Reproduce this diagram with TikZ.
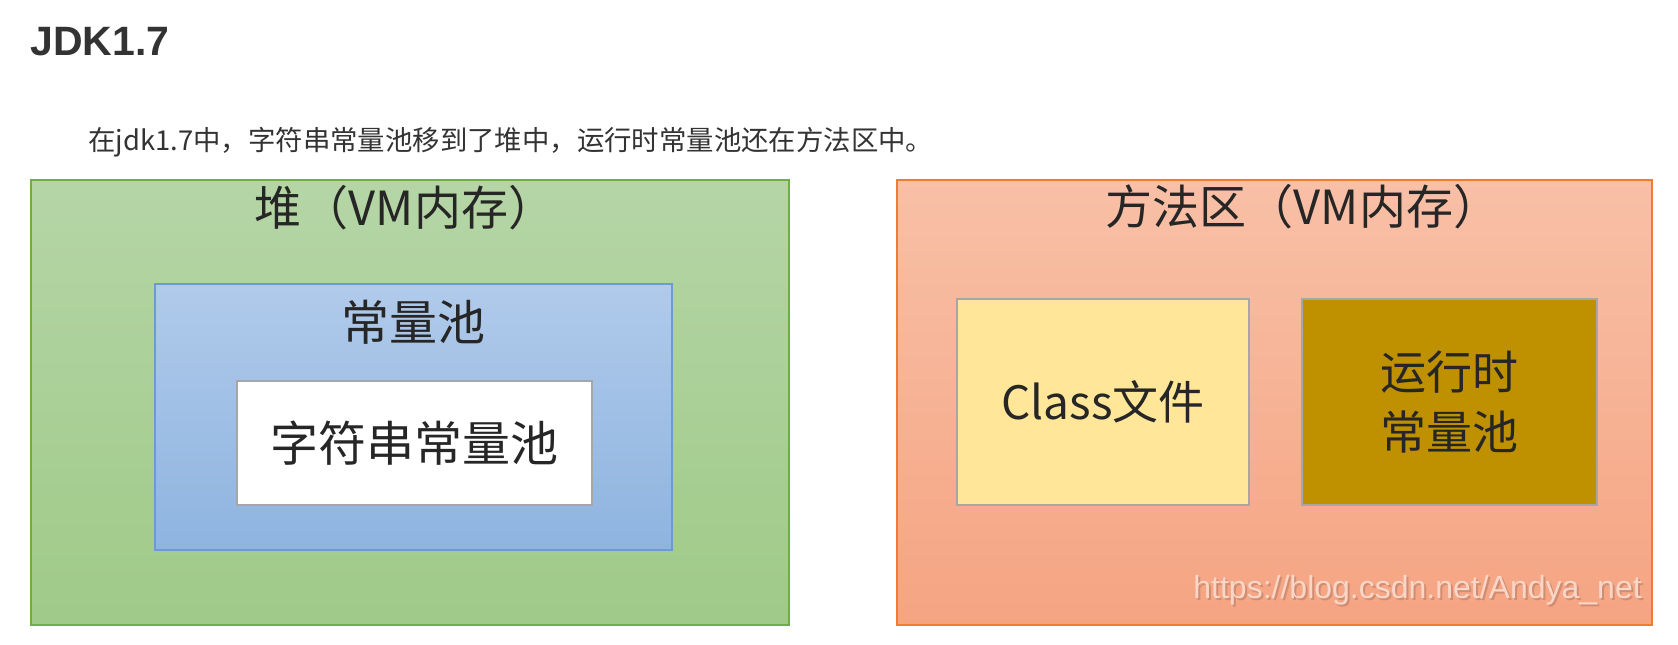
\documentclass[tikz,border=0pt]{standalone}
\usepackage{fontspec}
\setmainfont{Noto Sans CJK SC}
\newfontfamily\latinfont{Liberation Sans}
\definecolor{textgray}{HTML}{333333}
\definecolor{boxtext}{HTML}{262626}
\definecolor{heaptop}{HTML}{B5D5A6}
\definecolor{heapbot}{HTML}{9FCA88}
\definecolor{heapline}{HTML}{70AD47}
\definecolor{pooltop}{HTML}{B0CAEA}
\definecolor{poolbot}{HTML}{8EB4E0}
\definecolor{poolline}{HTML}{6A9BD3}
\definecolor{methtop}{HTML}{F8C0A7}
\definecolor{methbot}{HTML}{F5A482}
\definecolor{methline}{HTML}{ED7D31}
\definecolor{classfill}{HTML}{FFE699}
\definecolor{rtfill}{HTML}{BF9000}
\definecolor{innerline}{HTML}{A6A6A6}
\definecolor{markfill}{HTML}{FAD6C8}
\tikzset{
  areabox/.style={line width=1pt, inner sep=0pt},
  innerbox/.style={draw=innerline, line width=1pt, inner sep=0pt, text=boxtext,
    font=\fontsize{23pt}{30pt}\selectfont, align=center},
  titletext/.style={text=boxtext, inner sep=0pt, font=\fontsize{23.5pt}{28pt}\selectfont},
}
\begin{document}
\begin{tikzpicture}[x=0.5pt, y=-0.5pt]
  \useasboundingbox (0,0) rectangle (1678,644);
  % Titulo
  \node[anchor=base west, inner sep=0pt, text=textgray,
    font=\latinfont\bfseries\fontsize{20.5pt}{24pt}\selectfont] (head) at (30,55) {JDK1.7};
  \node[anchor=base west, inner sep=0pt, text=textgray,
    font=\fontsize{13.7pt}{16pt}\selectfont] (sub) at (88,150)
    {在jdk1.7中，字符串常量池移到了堆中，运行时常量池还在方法区中。};
  % Heap
  \node[areabox, draw=heapline, top color=heaptop, bottom color=heapbot,
    minimum width=379pt, minimum height=222.5pt] (heap) at (410,402.5) {};
  \node[titletext] (heaptitle) at (405,208) {堆（VM内存）};
  \node[areabox, draw=poolline, top color=pooltop, bottom color=poolbot,
    minimum width=258.5pt, minimum height=133pt] (pool) at (413.5,417) {};
  \node[titletext, font=\fontsize{24pt}{28pt}\selectfont] (pooltitle) at (413,322) {常量池};
  \node[innerbox, fill=white, font=\fontsize{24pt}{30pt}\selectfont,
    minimum width=177.5pt, minimum height=62pt] (strpool) at (414.5,443) {字符串常量池};
  % Method area
  \node[areabox, draw=methline, top color=methtop, bottom color=methbot,
    minimum width=377.5pt, minimum height=222.5pt] (method) at (1274.5,402.5) {};
  \node[titletext] (methodtitle) at (1303,207) {方法区（VM内存）};
  \node[innerbox, fill=classfill, minimum width=146pt, minimum height=103pt] (classfile)
    at (1103,402) {Class文件};
  \node[innerbox, fill=rtfill, minimum width=147.5pt, minimum height=103pt] (rtpool)
    at (1449.5,402) {运行时\\常量池};
  % Watermark
  \node[anchor=base west, inner sep=0pt, text=black, opacity=0.15,
    font=\latinfont\fontsize{16pt}{18pt}\selectfont] (markshadow) at (1195,600)
    {https://blog.csdn.net/Andya\_net};
  \node[anchor=base west, inner sep=0pt, text=markfill,
    font=\latinfont\fontsize{16pt}{18pt}\selectfont] (mark) at (1193,598)
    {https://blog.csdn.net/Andya\_net};
\end{tikzpicture}
\end{document}
